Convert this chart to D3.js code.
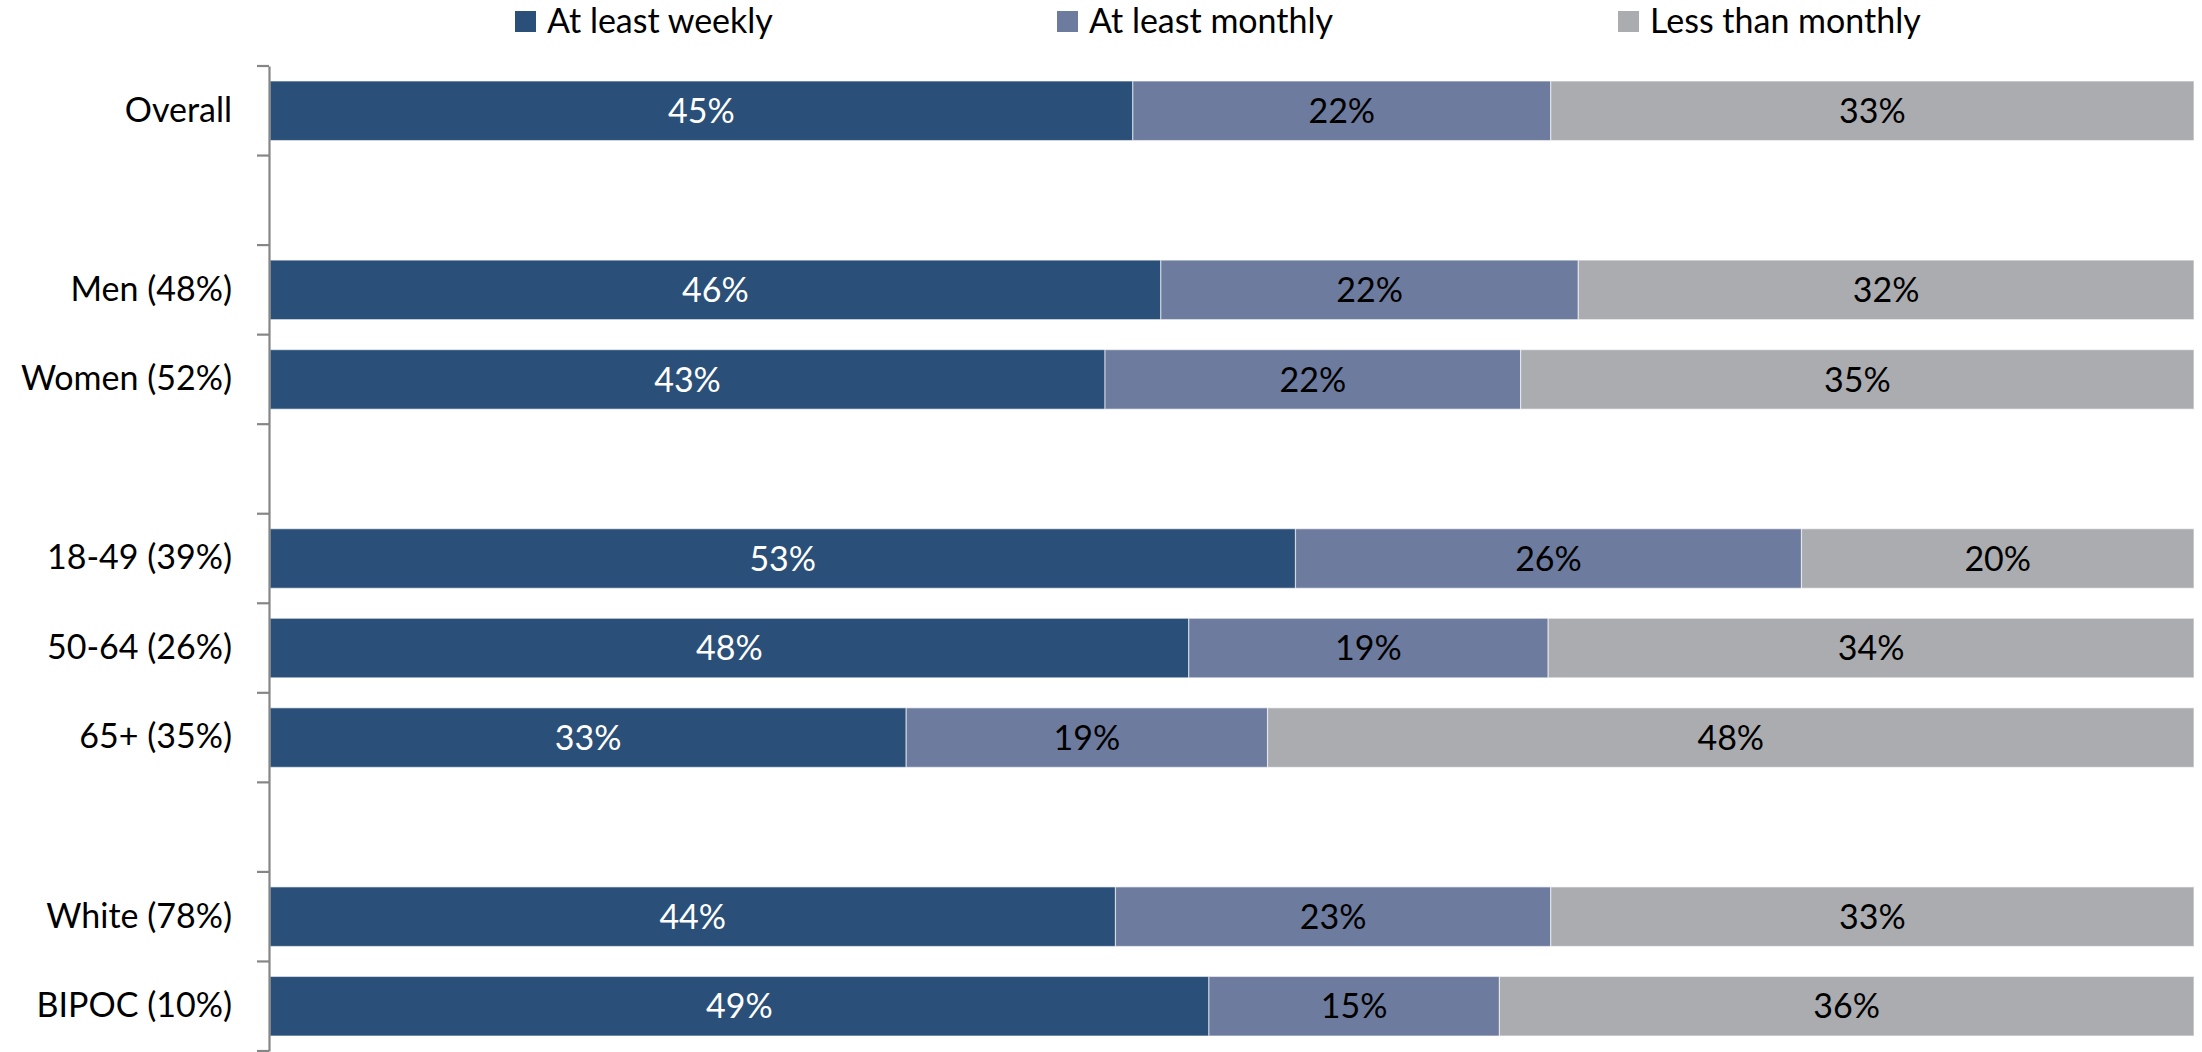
<!DOCTYPE html>
<html>
<head>
<meta charset="utf-8">
<script src="https://cdn.jsdelivr.net/npm/d3@7"></script>
<style>
  html, body { margin: 0; padding: 0; background: #ffffff; }
  svg { display: block; }
  text { font-family: Lato, "Open Sans", "DejaVu Sans", sans-serif; }
</style>
</head>
<body>
<svg id="chart" width="2202" height="1052"></svg>
<script>
// ---- data (percent shares; labels show rounded values) ----
const categories = ["Overall", "", "Men (48%)", "Women (52%)", "", "18-49 (39%)", "50-64 (26%)", "65+ (35%)", "", "White (78%)", "BIPOC (10%)"];
const seriesNames = ["At least weekly", "At least monthly", "Less than monthly"];
const atLeastWeekly   = [44.8, null, 46.3, 43.4, null, 53.3, 47.8, 33.1, null, 43.9, 48.8];
const atLeastMonthly  = [21.7, null, 21.7, 21.6, null, 26.3, 18.7, 18.8, null, 22.6, 15.1];
const lessThanMonthly = [33.4, null, 32.0, 35.0, null, 20.4, 33.6, 48.2, null, 33.4, 36.1];
const seriesColors = ["#2A4F78", "#6D7B9E", "#ABACB0"];
const labelColors = ["#ffffff", "#000000", "#000000"];

// ---- layout ----
const W = 2202, H = 1052;
const axisX = 269;
const plot = { left: 270, right: 2194, top: 66, bottom: 1051 };
const fontSize = 34;

const svg = d3.select("#chart");

const x = d3.scaleLinear().domain([0, 1]).range([plot.left, plot.right]);
const y = d3.scaleBand()
  .domain(d3.range(categories.length))
  .range([plot.top, plot.bottom])
  .paddingInner(0.335)
  .paddingOuter(0.1675);

// build stacked (100%) rows
const seriesValues = [atLeastWeekly, atLeastMonthly, lessThanMonthly];
const rows = categories.map((c, i) => {
  const vals = seriesValues.map(s => s[i]);
  if (vals.some(v => v == null)) return null;
  const total = d3.sum(vals);
  let acc = 0;
  return vals.map((v, k) => {
    const seg = { row: i, series: k, value: v, x0: acc / total, x1: (acc + v) / total };
    acc += v;
    return seg;
  });
}).filter(r => r);
const segments = rows.flat();

// bars
svg.append("g")
  .selectAll("rect")
  .data(segments)
  .join("rect")
  .attr("x", d => x(d.x0))
  .attr("y", d => y(d.row))
  .attr("width", d => x(d.x1) - x(d.x0))
  .attr("height", y.bandwidth())
  .attr("fill", d => seriesColors[d.series])
  .attr("stroke", "#ffffff")
  .attr("stroke-opacity", 0.55)
  .attr("stroke-width", 1.2);

// data labels
svg.append("g")
  .selectAll("text")
  .data(segments)
  .join("text")
  .attr("x", d => (x(d.x0) + x(d.x1)) / 2)
  .attr("y", d => y(d.row) + y.bandwidth() / 2)
  .attr("dy", "0.36em")
  .attr("text-anchor", "middle")
  .attr("font-size", fontSize)
  .attr("fill", d => labelColors[d.series])
  .text(d => Math.round(d.value) + "%");

// y axis with category labels
const axisG = svg.append("g")
  .attr("transform", `translate(${axisX},0)`)
  .call(d3.axisLeft(y)
    .tickSize(0)
    .tickSizeOuter(0)
    .tickPadding(37)
    .tickFormat(i => categories[i]));
axisG.select(".domain").attr("stroke", "#868686").attr("stroke-width", 2.2);
axisG.selectAll(".tick text")
  .attr("font-size", fontSize)
  .attr("font-family", "Lato, 'Open Sans', sans-serif")
  .attr("fill", "#000000");

// tick marks between categories
const step = y.step();
const boundaries = d3.range(categories.length + 1).map(i => plot.top + i * step);
svg.append("g")
  .selectAll("line")
  .data(boundaries)
  .join("line")
  .attr("x1", axisX - 12)
  .attr("x2", axisX)
  .attr("y1", d => d)
  .attr("y2", d => d)
  .attr("stroke", "#868686")
  .attr("stroke-width", 2.2);

// legend
const legendX = [515, 1057, 1618];
const legend = svg.append("g")
  .selectAll("g")
  .data(seriesNames)
  .join("g")
  .attr("transform", (d, i) => `translate(${legendX[i]},0)`);
legend.append("rect")
  .attr("x", 0).attr("y", 11)
  .attr("width", 21).attr("height", 21)
  .attr("fill", (d, i) => seriesColors[i]);
legend.append("text")
  .attr("x", 32).attr("y", 33)
  .attr("font-size", fontSize)
  .attr("fill", "#000000")
  .text(d => d);
</script>
</body>
</html>
